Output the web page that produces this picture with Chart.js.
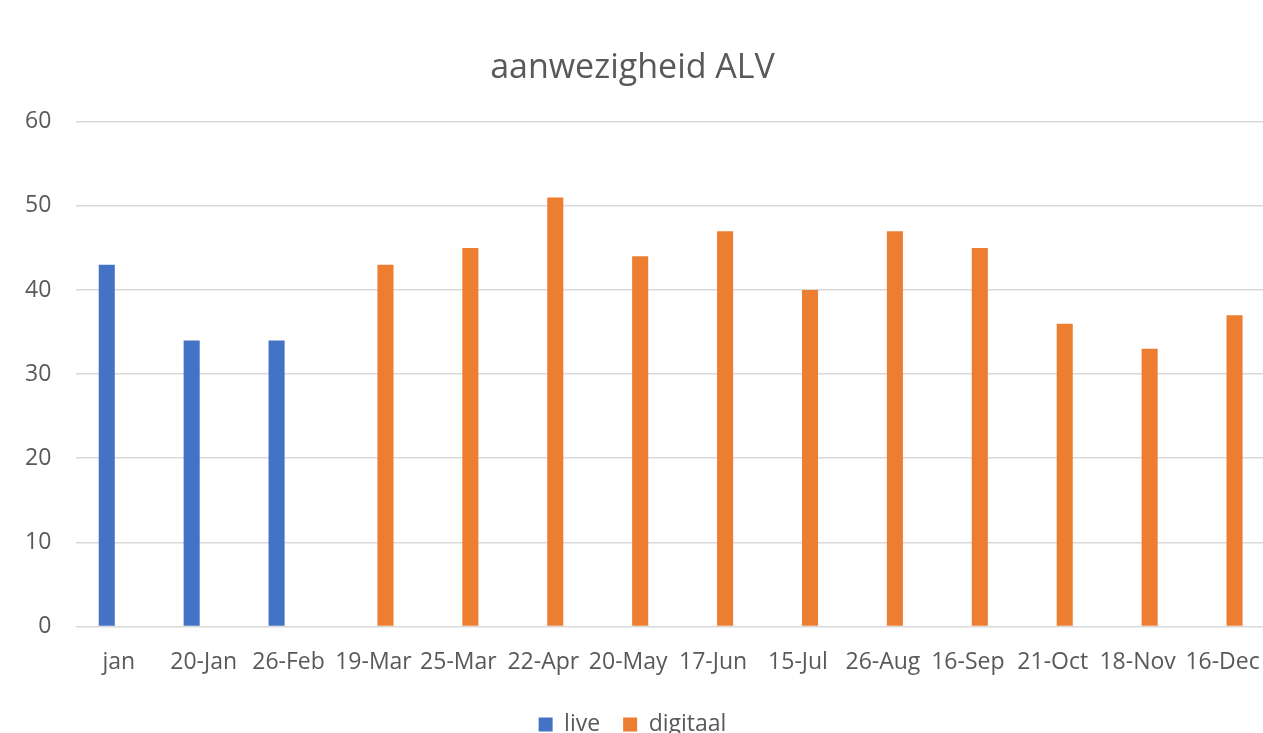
<!DOCTYPE html>
<html>
<head>
<meta charset="utf-8">
<script src="https://cdn.jsdelivr.net/npm/chart.js@4/dist/chart.umd.min.js"></script>
<style>
  html, body { margin: 0; padding: 0; background: #ffffff; overflow: hidden; }
  #wrap { width: 1300px; height: 750px; }
</style>
</head>
<body>
<div id="wrap"><canvas id="alvChart" width="1300" height="750"></canvas></div>
<script>
// attendance data
const categories = ['jan', '20-Jan', '26-Feb', '19-Mar', '25-Mar', '22-Apr', '20-May',
    '17-Jun', '15-Jul', '26-Aug', '16-Sep', '21-Oct', '18-Nov', '16-Dec'];
const liveValues = [43, 34, 34, null, null, null, null, null, null, null, null, null, null, null];
const digitalValues = [null, null, null, 43, 45, 51, 44, 47, 40, 47, 45, 36, 33, 37];
const yTicks = [0, 10, 20, 30, 40, 50, 60];

const textColor = '#595959';
const fontFamily = '"Open Sans", "Liberation Sans", sans-serif';

const ctx = document.getElementById('alvChart').getContext('2d');

new Chart(ctx, {
    type: 'bar',
    data: {
        labels: categories,
        datasets: [
            {
                label: 'live',
                data: liveValues,
                backgroundColor: '#4472C4',
                categoryPercentage: 0.565,
                barPercentage: 0.67
            },
            {
                label: 'digitaal',
                data: digitalValues,
                backgroundColor: '#ED7D31',
                categoryPercentage: 0.565,
                barPercentage: 0.67
            }
        ]
    },
    options: {
        responsive: false,
        animation: false,
        layout: {
            padding: { left: 0, right: 35, top: 0, bottom: 4 }
        },
        plugins: {
            title: {
                display: true,
                text: 'aanwezigheid ALV',
                color: textColor,
                font: { family: fontFamily, size: 34, weight: 'normal' },
                padding: { top: 48, bottom: 33 }
            },
            legend: {
                position: 'bottom',
                labels: {
                    color: textColor,
                    font: { family: fontFamily, size: 23 },
                    boxWidth: 14,
                    boxHeight: 14,
                    padding: 23
                }
            },
            tooltip: { enabled: false }
        },
        scales: {
            x: {
                grid: { display: false },
                border: { display: false },
                ticks: {
                    color: textColor,
                    font: { family: fontFamily, size: 23 },
                    autoSkip: false,
                    maxRotation: 0,
                    padding: 14
                }
            },
            y: {
                min: 0,
                max: 60,
                afterBuildTicks: (axis) => {
                    axis.ticks = yTicks.map(v => ({ value: v }));
                },
                grid: { color: '#d9d9d9', lineWidth: 1.5, drawTicks: false },
                border: { display: false },
                ticks: {
                    color: textColor,
                    font: { family: fontFamily, size: 23 },
                    padding: 25
                }
            }
        }
    }
});
</script>
</body>
</html>
